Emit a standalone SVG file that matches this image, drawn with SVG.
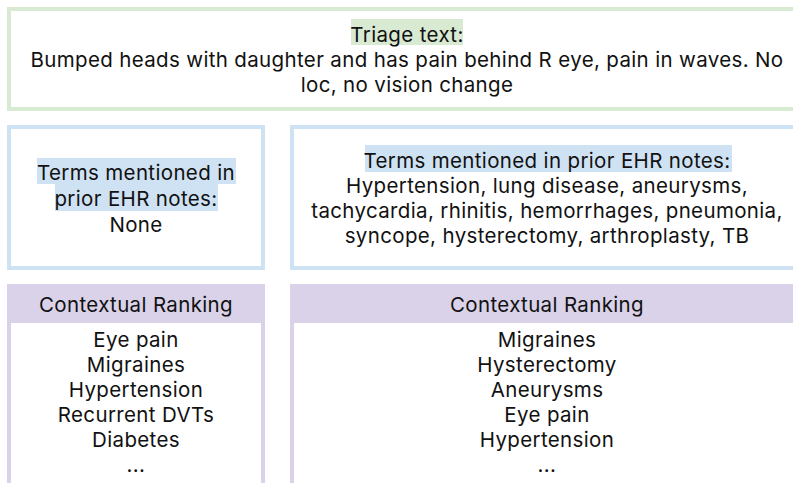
<svg xmlns="http://www.w3.org/2000/svg" width="793" height="483" viewBox="0 0 793 483">
<style>
text{font-family:Inter,"Noto Sans","Liberation Sans",sans-serif;font-size:20.5px;letter-spacing:0.35px;fill:#111;text-anchor:middle}
.g{fill:none;stroke:#d9ead3;stroke-width:4}
.b{fill:none;stroke:#cfe2f3;stroke-width:4}
.p{fill:none;stroke:#d9d2e9;stroke-width:4}
.hg{fill:#d9ead3}
.hb{fill:#cfe2f3}
.hp{fill:#d9d2e9}
</style>
<rect width="793" height="483" fill="#fff"/>
<g id="triage">
<rect class="g" x="9" y="9" width="800" height="100"/>
<rect class="hg" x="351" y="19" width="112" height="26"/>
<text x="407" y="42">Triage text:</text>
<text x="407" y="67">Bumped heads with daughter and has pain behind R eye, pain in waves. No</text>
<text x="407" y="92">loc, no vision change</text>
</g>
<g id="terms-left">
<rect class="b" x="9" y="127" width="254" height="141"/>
<rect class="hb" x="37" y="158" width="199" height="26"/>
<rect class="hb" x="55" y="184" width="163" height="27"/>
<text x="136" y="180">Terms mentioned in</text>
<text x="136" y="206">prior EHR notes:</text>
<text x="136" y="232">None</text>
</g>
<g id="terms-right">
<rect class="b" x="292" y="127" width="520" height="141"/>
<rect class="hb" x="365" y="145" width="367" height="27"/>
<text x="547" y="168">Terms mentioned in prior EHR notes:</text>
<text x="547" y="193">Hypertension, lung disease, aneurysms,</text>
<text x="547" y="218">tachycardia, rhinitis, hemorrhages, pneumonia,</text>
<text x="547" y="243">syncope, hysterectomy, arthroplasty, TB</text>
</g>
<g id="ranking-left">
<rect class="hp" x="7" y="284" width="258" height="39"/>
<path class="p" d="M9 323V483M263 323V483"/>
<text x="136" y="312">Contextual Ranking</text>
<text x="136" y="347">Eye pain</text>
<text x="136" y="372">Migraines</text>
<text x="136" y="397">Hypertension</text>
<text x="136" y="422">Recurrent DVTs</text>
<text x="136" y="447">Diabetes</text>
<text x="136" y="472">...</text>
</g>
<g id="ranking-right">
<rect class="hp" x="290" y="284" width="520" height="39"/>
<path class="p" d="M292 323V483"/>
<text x="547" y="312">Contextual Ranking</text>
<text x="547" y="347">Migraines</text>
<text x="547" y="372">Hysterectomy</text>
<text x="547" y="397">Aneurysms</text>
<text x="547" y="422">Eye pain</text>
<text x="547" y="447">Hypertension</text>
<text x="547" y="472">...</text>
</g>
<g id="connectors"></g>
</svg>
